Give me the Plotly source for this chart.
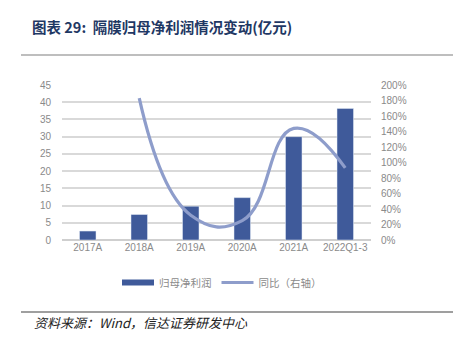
import plotly.graph_objects as go

categories = ["2017A", "2018A", "2019A", "2020A", "2021A", "2022Q1-3"]
net_profit = [2.6, 7.4, 9.8, 12.3, 30.0, 38.2]          # 亿元
yoy_growth = [None, 183, 32, 25, 144, 93]               # %

left_ticks = list(range(0, 50, 5))
right_ticks = list(range(0, 220, 20))
right_labels = [f"{v}%" for v in right_ticks]

BAR_COLOR = "#3F5A9A"
LINE_COLOR = "#8E9DCB"
TICK_COLOR = "#8A8A8A"
GRID_COLOR = "#D9D9D9"
CJK = "Noto Sans CJK SC"

W, H = 466, 342
ML, MR, MT, MB = 62, 95, 85, 102
PW, PH = W - ML - MR, H - MT - MB


def px(x):
    return (x - ML) / PW


def py(y):
    return (H - MB - y) / PH


fig = go.Figure()

fig.add_trace(go.Bar(
    x=categories, y=net_profit, name="归母净利润",
    marker=dict(color=BAR_COLOR), width=0.32, showlegend=False,
))
# legend entry for the bars drawn as a thick stroke
fig.add_trace(go.Scatter(
    x=[None], y=[None], mode="lines", name="归母净利润",
    line=dict(color=BAR_COLOR, width=6),
))
fig.add_trace(go.Scatter(
    x=categories, y=yoy_growth, name="同比（右轴）", yaxis="y2",
    mode="lines", line=dict(color=LINE_COLOR, width=3.2, shape="spline", smoothing=1.3),
    connectgaps=False,
))

fig.update_layout(
    width=W, height=H,
    margin=dict(l=ML, r=MR, t=MT, b=MB),
    paper_bgcolor="white", plot_bgcolor="white",
    font=dict(family=CJK, size=10, color=TICK_COLOR),
    xaxis=dict(
        type="category", showgrid=False, showline=False, ticks="", zeroline=False,
        tickfont=dict(family="Liberation Sans, Arial", size=10, color=TICK_COLOR),
    ),
    yaxis=dict(
        range=[0, 45], tickmode="array", tickvals=left_ticks,
        showgrid=True, gridcolor=GRID_COLOR, gridwidth=1.5,
        zeroline=True, zerolinecolor="#CFCFCF", zerolinewidth=1.5,
        ticks="", ticklabelstandoff=10,
        tickfont=dict(family="Liberation Sans, Arial", size=10, color=TICK_COLOR),
    ),
    yaxis2=dict(
        overlaying="y", side="right", range=[0, 200], tickmode="array", tickvals=right_ticks,
        ticktext=right_labels, showgrid=False, zeroline=False, ticks="",
        ticklabelstandoff=9,
        tickfont=dict(family="Liberation Sans, Arial", size=10, color=TICK_COLOR),
    ),
    legend=dict(
        orientation="h", x=px(222), xanchor="center", y=py(268), yanchor="top",
        font=dict(family=CJK, size=10.5, color=TICK_COLOR),
        itemwidth=32, traceorder="normal",
    ),
    showlegend=True,
)

# header and footer
fig.add_annotation(
    text="<b>图表 29:  隔膜归母净利润情况变动(亿元)</b>",
    xref="paper", yref="paper", x=px(30), y=py(27), xanchor="left", yanchor="middle",
    showarrow=False,
    font=dict(family=CJK, size=14.5, color="#1F3864"),
)
fig.add_shape(type="line", xref="paper", yref="paper", x0=px(21), x1=px(453),
              y0=py(55), y1=py(55), line=dict(color="#7F7F7F", width=1.2))
fig.add_shape(type="line", xref="paper", yref="paper", x0=px(21), x1=px(453),
              y0=py(312), y1=py(312), line=dict(color="#404040", width=1.2))
fig.add_annotation(
    text="<i>资料来源：Wind，信达证券研发中心</i>",
    xref="paper", yref="paper", x=px(32), y=py(322), xanchor="left", yanchor="middle",
    showarrow=False,
    font=dict(family=CJK, size=13, color="#222222"),
)

fig.write_html("out.html")
